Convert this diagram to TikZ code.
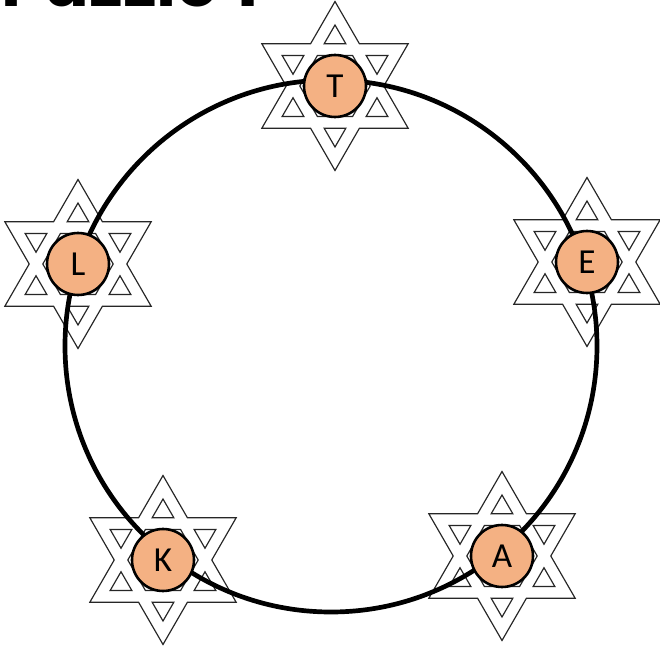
\documentclass[tikz,border=0pt]{standalone}
\usepackage{fontspec}
\setmainfont{Carlito}
\newfontfamily\titlefont{Poppins}
\definecolor{nodefill}{HTML}{F4B183}
\tikzset{
  starline/.style={draw=black!85, line width=1pt},
  bigring/.style={draw=black, line width=4pt},
  letternode/.style={circle, draw=black, line width=2.2pt, fill=nodefill, minimum size=62*0.03cm, inner sep=0pt, font=\fontsize{30}{32}\selectfont},
  davidstar/.pic={
    \draw[starline, fill=white] (90:84.5) -- (120:48.8) -- (150:84.5) -- (180:48.8) -- (210:84.5) -- (240:48.8) -- (270:84.5) -- (300:48.8) -- (330:84.5) -- (0:48.8) -- (30:84.5) -- (60:48.8) -- cycle;
    \foreach \k in {0,60,...,300}
      \draw[starline] ({90+\k}:61) -- ({75.62+\k}:43.6) -- ({104.38+\k}:43.6) -- cycle;
    \draw[starline] (0:35.2) -- (60:35.2) -- (120:35.2) -- (180:35.2) -- (240:35.2) -- (300:35.2) -- cycle;
  }
}
\begin{document}
\begin{tikzpicture}[x=0.03cm, y=-0.03cm]
  \useasboundingbox (0,0) rectangle (660,647);
  \clip (0,0) rectangle (660,647);
  % title (cut off by the top edge, as in the reference)
  \node[anchor=base west, inner sep=0pt, font=\titlefont\bfseries\fontsize{58}{62}\selectfont] (title) at (1,7) {Puzzle 1};
  % stars
  \pic at (335,86) {davidstar};
  \pic at (78,264) {davidstar};
  \pic at (587,262) {davidstar};
  \pic at (163,560) {davidstar};
  \pic at (502,556) {davidstar};
  % big ring
  \draw[bigring] (331,346) circle (266);
  % letter nodes
  \node[letternode] (T) at (335,86) {T};
  \node[letternode] (L) at (78,264) {L};
  \node[letternode] (E) at (587,262) {E};
  \node[letternode] (K) at (163,560) {K};
  \node[letternode] (A) at (502,556) {A};
\end{tikzpicture}
\end{document}
